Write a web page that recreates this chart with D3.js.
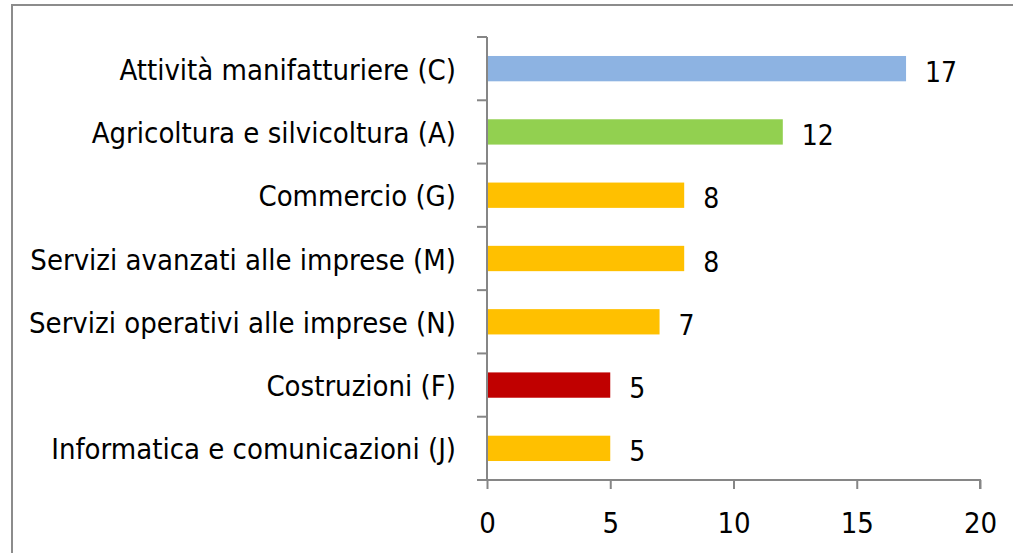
<!DOCTYPE html>
<html>
<head>
<meta charset="utf-8">
<script src="https://cdnjs.cloudflare.com/ajax/libs/d3/7.8.5/d3.min.js"></script>
<style>
  body { margin: 0; background: #fff; }
  svg text { font-family: "DejaVu Sans Condensed", "DejaVu Sans", sans-serif; font-stretch: condensed; fill: #000; }
</style>
</head>
<body>
<div id="chart"></div>
<script>
// categories from top to bottom
var categories = [
  "Attività manifatturiere (C)",
  "Agricoltura e silvicoltura (A)",
  "Commercio (G)",
  "Servizi avanzati alle imprese (M)",
  "Servizi operativi alle imprese (N)",
  "Costruzioni (F)",
  "Informatica e comunicazioni (J)"
];
var values = [17, 12, 8, 8, 7, 5, 5];
var barColors = ["#8db3e2", "#92d050", "#ffc000", "#ffc000", "#ffc000", "#c00000", "#ffc000"];
var xTicks = [0, 5, 10, 15, 20];

var svgWidth = 1013,
    svgHeight = 553;

var margin = {top: 37, right: 33, bottom: 73, left: 487};
var chartWidth = svgWidth - margin.left - margin.right;
var chartHeight = svgHeight - margin.top - margin.bottom;

var svg = d3.select("#chart")
  .append("svg")
  .attr("width", svgWidth)
  .attr("height", svgHeight);

// outer frame (runs off the right and bottom of the picture)
svg.append("rect")
  .attr("x", 12)
  .attr("y", 5)
  .attr("width", svgWidth + 20)
  .attr("height", svgHeight + 20)
  .attr("fill", "none")
  .attr("stroke", "#8c8c8c")
  .attr("stroke-width", 2);

var chartGroup = svg.append("g")
  .attr("transform", `translate(${margin.left}, ${margin.top})`);

var xScale = d3.scaleLinear()
  .domain([0, 20])
  .range([0, chartWidth]);

var yScale = d3.scaleBand()
  .domain(categories)
  .range([0, chartHeight])
  .paddingInner(0.6)
  .paddingOuter(0.3);

var data = categories.map(function(c, i) {
  return {cat: c, val: values[i], color: barColors[i]};
});

// bars
chartGroup.selectAll(".bar")
  .data(data)
  .enter()
  .append("rect")
  .attr("class", "bar")
  .attr("x", xScale(0))
  .attr("y", d => yScale(d.cat))
  .attr("width", d => xScale(d.val) - xScale(0))
  .attr("height", yScale.bandwidth())
  .attr("fill", d => d.color);

// value labels
chartGroup.selectAll(".val")
  .data(data)
  .enter()
  .append("text")
  .attr("class", "val")
  .attr("x", d => xScale(d.val) + 19)
  .attr("y", d => yScale(d.cat) + yScale.bandwidth() / 2 + 13)
  .style("font-size", "28px")
  .text(d => d.val);

// y axis: line + ticks at band boundaries
var bounds = d3.range(categories.length + 1).map(i => i * chartHeight / categories.length);

chartGroup.append("line")
  .attr("x1", 0).attr("x2", 0)
  .attr("y1", 0).attr("y2", chartHeight)
  .attr("stroke", "#868686")
  .attr("stroke-width", 2);

chartGroup.selectAll(".ytick")
  .data(bounds)
  .enter()
  .append("line")
  .attr("class", "ytick")
  .attr("x1", -10).attr("x2", 0)
  .attr("y1", d => d).attr("y2", d => d)
  .attr("stroke", "#868686")
  .attr("stroke-width", 2);

chartGroup.selectAll(".ylab")
  .data(categories)
  .enter()
  .append("text")
  .attr("class", "ylab")
  .attr("x", -31)
  .attr("y", d => yScale(d) + yScale.bandwidth() / 2 + 11)
  .attr("text-anchor", "end")
  .style("font-size", "29px")
  .text(d => d);

// x axis
var bottomAxis = d3.axisBottom(xScale)
  .tickValues(xTicks)
  .tickSize(9)
  .tickFormat(d3.format("d"));

var xAxis = chartGroup.append("g")
  .attr("transform", "translate(0, " + chartHeight + ")")
  .call(bottomAxis);

xAxis.select(".domain")
  .attr("stroke", "#868686")
  .attr("stroke-width", 2)
  .attr("d", "M-10,0H" + chartWidth + "V9");
xAxis.selectAll(".tick line")
  .attr("stroke", "#868686")
  .attr("stroke-width", 2);
xAxis.selectAll(".tick text")
  .attr("y", 53)
  .attr("dy", 0)
  .style("font-size", "29px")
  .style("font-family", "'DejaVu Sans Condensed', 'DejaVu Sans', sans-serif")
  .attr("fill", "#000");
</script>
</body>
</html>
